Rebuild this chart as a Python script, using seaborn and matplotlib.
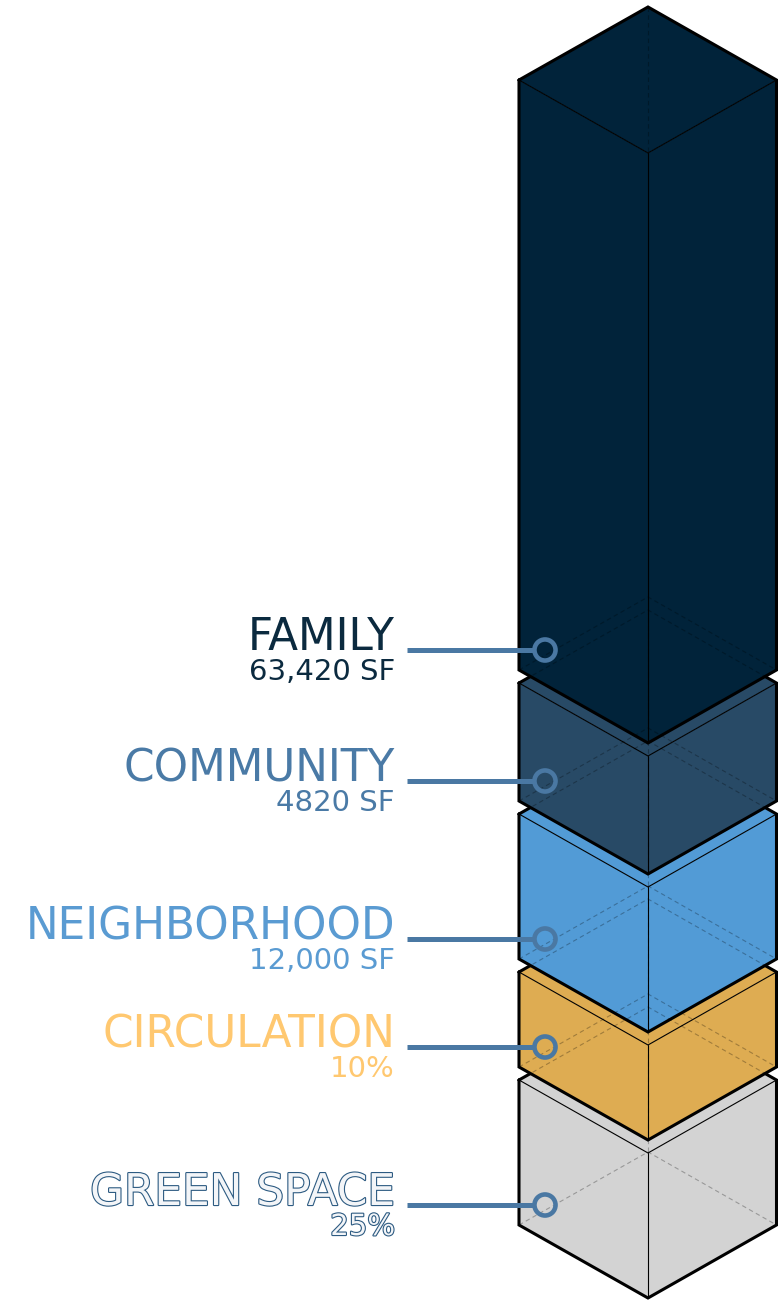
import matplotlib
matplotlib.use("Agg")
import matplotlib.pyplot as plt
import matplotlib.patheffects as pe
import seaborn as sns

# --- data (top of stack first) ---
categories = ["FAMILY", "COMMUNITY", "NEIGHBORHOOD", "CIRCULATION", "GREEN SPACE"]
value_labels = ["63,420 SF", "4820 SF", "12,000 SF", "10%", "25%"]
block_heights = [590, 118, 145, 95, 145]   # visual height of each block (px)

face_colors = ["#01233a", "#284a66", "#529bd6", "#deac52", "#d3d3d3"]
text_colors = ["#0b2a3f", "#4a7aa6", "#5a9bd2", "#ffc870", "#f3f5f8"]
LINE = "#4a78a3"

sns.set_theme(style="white")
plt.rcParams["font.family"] = ["DejaVu Sans"]

fig = plt.figure(figsize=(7.78, 13), dpi=100)
ax = fig.add_axes([0, 0, 1, 1])
ax.set_xlim(0, 778)
ax.set_ylim(1300, 0)
ax.axis("off")

# isometric column geometry
xl, xc, xr = 519, 648, 776.5
dy = 73          # half height of the top diamond
gap = 13
y_top = 153      # front-top vertex of the highest block

fronts = []
y = y_top
for h in block_heights:
    fronts.append((y, y + h))
    y = y + h + gap


def draw_block(ft, fb, color, z):
    left = [(xl, ft - dy), (xc, ft), (xc, fb), (xl, fb - dy)]
    right = [(xc, ft), (xr, ft - dy), (xr, fb - dy), (xc, fb)]
    top = [(xl, ft - dy), (xc, ft - 2 * dy), (xr, ft - dy), (xc, ft)]
    for poly in (top, left, right):
        xs, ys = zip(*poly)
        ax.fill(xs, ys, color=color, lw=0, zorder=z)
    # thin visible inner edges
    ax.plot([xl, xc, xr], [ft - dy, ft, ft - dy], color="black", lw=0.8, zorder=z + 0.1)
    ax.plot([xc, xc], [ft, fb], color="black", lw=0.8, zorder=z + 0.1)
    # silhouette
    ax.plot([xl, xc, xr, xr, xc, xl, xl],
            [ft - dy, ft - 2 * dy, ft - dy, fb - dy, fb, fb - dy, ft - dy],
            color="black", lw=2.2, zorder=z + 0.2, solid_joinstyle="miter")


n = len(categories)
# upper blocks get higher zorder so they overlap the ones below
for i in range(n):
    ft, fb = fronts[i]
    draw_block(ft, fb, face_colors[i], 2 + (n - i))

# hidden (dashed) edges on top of everything
for i in range(n):
    ft, fb = fronts[i]
    kw = dict(color="black", alpha=0.28, lw=0.8, ls=(0, (4, 3)), zorder=10)
    ax.plot([xl, xc, xr], [fb - dy, fb - 2 * dy, fb - dy], **kw)
    ax.plot([xc, xc], [ft - 2 * dy, min(ft, fb - 2 * dy)], **kw)
    if i > 0:
        ax.plot([xl, xc, xr], [ft - dy, ft - 2 * dy, ft - dy], **kw)

# leader lines, circles and labels
leader_y = [fb - dy - 20 for ft, fb in fronts]
ax.hlines(leader_y, 407, 535, color=LINE, lw=3.6, zorder=11)
sns.scatterplot(x=[545] * n, y=leader_y, s=230, marker="o", color=LINE,
                facecolor="none", edgecolor=LINE, linewidth=3.3, zorder=12,
                legend=False, ax=ax)

for i, (name, val) in enumerate(zip(categories, value_labels)):
    ly = leader_y[i]
    effects = None
    if name == "GREEN SPACE":
        effects = [pe.withStroke(linewidth=1.6, foreground="#2d5b82")]
    ax.text(395, ly, name, ha="right", va="baseline", fontsize=31.5,
            color=text_colors[i], path_effects=effects, zorder=12)
    ax.text(395, ly + 30, val, ha="right", va="baseline", fontsize=21,
            color=text_colors[i], path_effects=effects, zorder=12)

fig.savefig("out.png", dpi=100)
